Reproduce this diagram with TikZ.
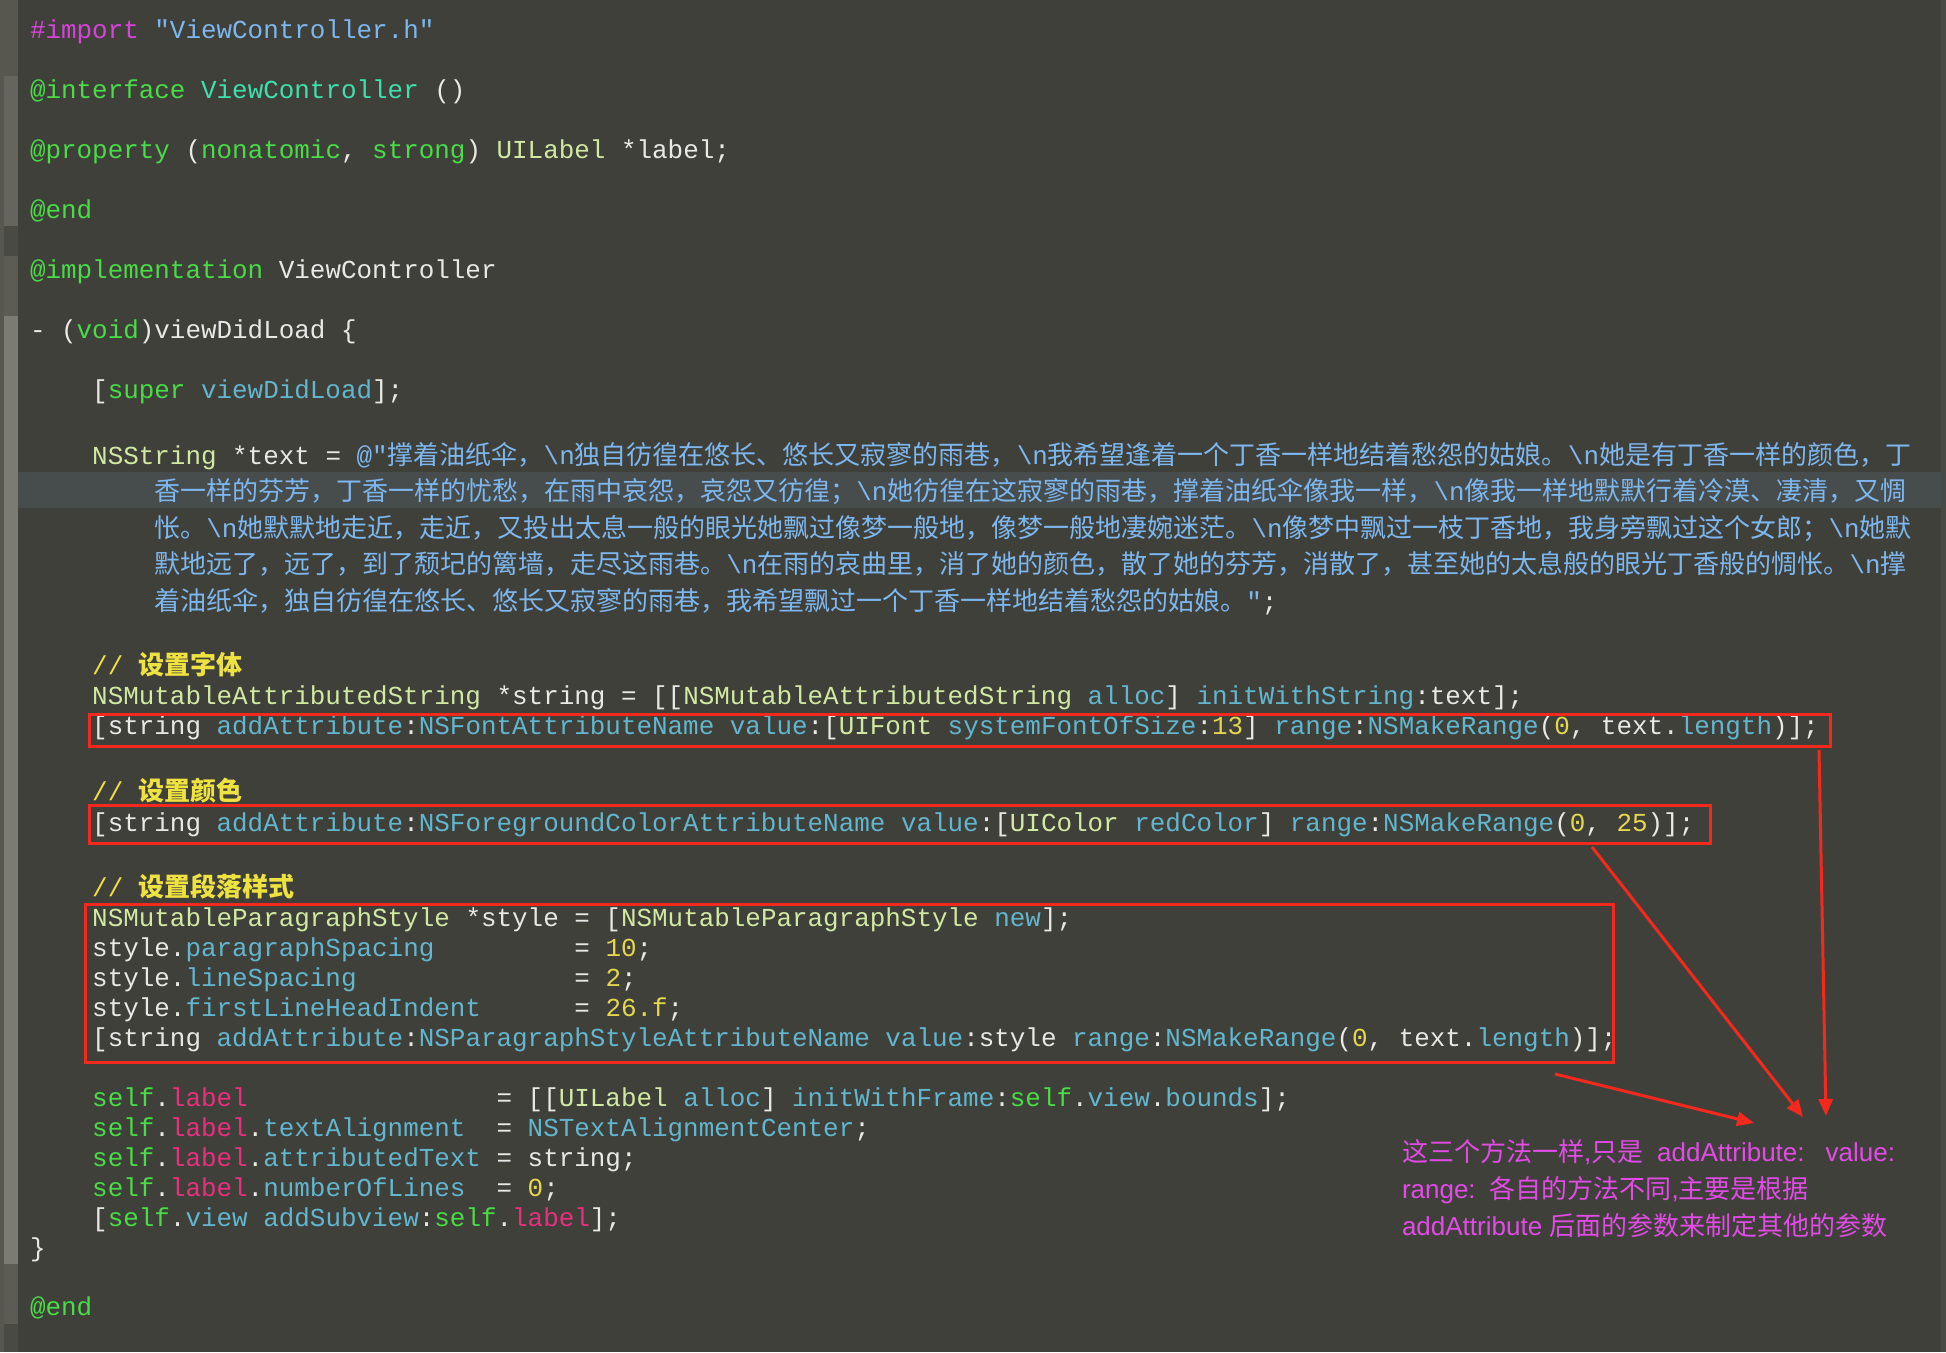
\documentclass[tikz,border=0pt]{standalone}
\usepackage{fontspec}
\setmonofont{Liberation Mono}
\newfontfamily\cjk{Noto Sans CJK SC}
\newfontfamily\lsans{Liberation Sans}
\usetikzlibrary{arrows.meta}
\definecolor{bg}{HTML}{40403A}
\definecolor{hl}{HTML}{474C4C}
\definecolor{cwhite}{HTML}{E8E8E6}
\definecolor{ckey}{HTML}{48DC46}
\definecolor{cmeth}{HTML}{62B6CE}
\definecolor{cclass}{HTML}{D2E9A3}
\definecolor{cstr}{HTML}{7DB7EE}
\definecolor{cnum}{HTML}{E6D84E}
\definecolor{ccom}{HTML}{EEE240}
\definecolor{cpre}{HTML}{D843DC}
\definecolor{cpink}{HTML}{E8307F}
\definecolor{cname}{HTML}{3EE0AE}
\definecolor{cred}{HTML}{F2291C}
\definecolor{cnote}{HTML}{E24BE6}
\definecolor{gA}{HTML}{57574F}
\definecolor{gB}{HTML}{65655D}
\definecolor{gC}{HTML}{4A4A44}
\definecolor{gD}{HTML}{5C5C55}
\definecolor{gE}{HTML}{7B7B71}
\newlength\mw
\setlength\mw{15.5545pt}
\newcommand\xs[1]{\hspace*{#1\mw}}
\newcommand\xW[1]{\textcolor{cwhite}{#1}}
\newcommand\xG[1]{\textcolor{ckey}{#1}}
\newcommand\xM[1]{\textcolor{cmeth}{#1}}
\newcommand\xC[1]{\textcolor{cclass}{#1}}
\newcommand\xS[1]{\textcolor{cstr}{#1}}
\newcommand\xN[1]{\textcolor{cnum}{#1}}
\newcommand\xP[1]{\textcolor{cpre}{#1}}
\newcommand\xK[1]{\textcolor{cpink}{#1}}
\newcommand\xT[1]{\textcolor{cname}{#1}}
\newcommand\xY[1]{\textcolor{ccom}{#1}}
\newcommand\xZ[1]{{\cjk\fontsize{26}{30}\selectfont #1}}
\newcommand\xB[1]{{\cjk\bfseries\fontsize{26}{30}\selectfont #1}}
\newcommand\xQ[1]{{\cjk #1}}
\newcommand\xn{\textbackslash n}
\tikzset{
  code/.style={anchor=base west, inner sep=0pt, outer sep=0pt,
    font=\ttfamily\fontsize{25.92}{30}\selectfont\frenchspacing, text=cwhite},
  notetext/.style={anchor=base west, inner sep=0pt, outer sep=0pt,
    font=\lsans\fontsize{26}{30}\selectfont, text=cnote},
  redbox/.style={draw=cred, line width=3pt, inner sep=0pt, outer sep=0pt,
    anchor=north west},
  redarrow/.style={draw=cred, line width=3pt, -{Triangle[length=17pt,width=14pt]}}
}
\begin{document}
\begin{tikzpicture}[x=1pt,y=-1pt]
\useasboundingbox (0,0) rectangle (1946,1352);
\fill[bg] (0,0) rectangle (1946,1352);
% gutter
\fill[gA] (0,0) rectangle (4,1352);
\fill[gA] (4,0) rectangle (18,76);
\fill[gB] (4,76) rectangle (18,226);
\fill[gC] (4,226) rectangle (18,256);
\fill[gD] (4,256) rectangle (18,316);
\fill[gE] (4,316) rectangle (18,1264);
\fill[gD] (4,1264) rectangle (18,1324);
\fill[gC] (4,1324) rectangle (18,1352);
\fill[gC] (1941,0) rectangle (1946,1352);
% current line highlight
\fill[hl] (18,472) rectangle (1941,508);

% code lines
\node[code] (c01) at (30,38) {\xP{\#import} \xS{"ViewController.h"}};
\node[code] (c02) at (30,98) {\xG{@interface} \xT{ViewController} \xW{()}};
\node[code] (c03) at (30,158) {\xG{@property} \xW{(}\xG{nonatomic}\xW{,} \xG{strong}\xW{)} \xC{UILabel} \xW{*label;}};
\node[code] (c04) at (30,218) {\xG{@end}};
\node[code] (c05) at (30,278) {\xG{@implementation} \xW{ViewController}};
\node[code] (c06) at (30,338) {\xW{- (}\xG{void}\xW{)viewDidLoad \{}};
\node[code] (c07) at (92.2,398) {\xW{[}\xG{super} \xM{viewDidLoad}\xW{];}};

\node[code] (c08) at (92.2,464) {\xC{NSString} \xW{*text =} \xS{@"\xZ{撑着油纸伞，}\xn\xZ{独自彷徨在悠长、悠长又寂寥的雨巷，}\xn\xZ{我希望逢着一个丁香一样地结着愁怨的姑娘。}\xn\xZ{她是有丁香一样的颜色，丁}}};
\node[code] (c09) at (154.4,500.5) {\xS{\xZ{香一样的芬芳，丁香一样的忧愁，在雨中哀怨，哀怨又彷徨；}\xn\xZ{她彷徨在这寂寥的雨巷，撑着油纸伞像我一样，}\xn\xZ{像我一样地默默行着冷漠、凄清，又惆}}};
\node[code] (c10) at (154.4,537) {\xS{\xZ{怅。}\xn\xZ{她默默地走近，走近，又投出太息一般的眼光她飘过像梦一般地，像梦一般地凄婉迷茫。}\xn\xZ{像梦中飘过一枝丁香地，我身旁飘过这个女郎；}\xn\xZ{她默}}};
\node[code] (c11) at (154.4,573.5) {\xS{\xZ{默地远了，远了，到了颓圮的篱墙，走尽这雨巷。}\xn\xZ{在雨的哀曲里，消了她的颜色，散了她的芬芳，消散了，甚至她的太息般的眼光丁香般的惆怅。}\xn\xZ{撑}}};
\node[code] (c12) at (154.4,610) {\xS{\xZ{着油纸伞，独自彷徨在悠长、悠长又寂寥的雨巷，我希望飘过一个丁香一样地结着愁怨的姑娘。}"}\xW{;}};

\node[code] (c13) at (92.2,674) {\xY{// \xB{设置字体}}};
\node[code] (c14) at (92.2,704) {\xC{NSMutableAttributedString} \xW{*string = [[}\xC{NSMutableAttributedString} \xM{alloc}\xW{]} \xM{initWithString}\xW{:text];}};
\node[code] (c15) at (92.2,734) {\xW{[string} \xM{addAttribute}\xW{:}\xM{NSFontAttributeName} \xM{value}\xW{:[}\xC{UIFont} \xM{systemFontOfSize}\xW{:}\xN{13}\xW{]} \xM{range}\xW{:}\xM{NSMakeRange}\xW{(}\xN{0}\xW{, text.}\xM{length}\xW{)];}};

\node[code] (c16) at (92.2,800) {\xY{// \xB{设置颜色}}};
\node[code] (c17) at (92.2,831) {\xW{[string} \xM{addAttribute}\xW{:}\xM{NSForegroundColorAttributeName} \xM{value}\xW{:[}\xC{UIColor} \xM{redColor}\xW{]} \xM{range}\xW{:}\xM{NSMakeRange}\xW{(}\xN{0}\xW{,} \xN{25}\xW{)];}};

\node[code] (c18) at (92.2,896) {\xY{// \xB{设置段落样式}}};
\node[code] (c19) at (92.2,926) {\xC{NSMutableParagraphStyle} \xW{*style = [}\xC{NSMutableParagraphStyle} \xM{new}\xW{];}};
\node[code] (c20) at (92.2,956) {\xW{style.}\xM{paragraphSpacing}\xs{9}\xW{=} \xN{10}\xW{;}};
\node[code] (c21) at (92.2,986) {\xW{style.}\xM{lineSpacing}\xs{14}\xW{=} \xN{2}\xW{;}};
\node[code] (c22) at (92.2,1016) {\xW{style.}\xM{firstLineHeadIndent}\xs{6}\xW{=} \xN{26.f}\xW{;}};
\node[code] (c23) at (92.2,1046) {\xW{[string} \xM{addAttribute}\xW{:}\xM{NSParagraphStyleAttributeName} \xM{value}\xW{:style} \xM{range}\xW{:}\xM{NSMakeRange}\xW{(}\xN{0}\xW{, text.}\xM{length}\xW{)];}};

\node[code] (c24) at (92.2,1106) {\xG{self}\xW{.}\xK{label}\xs{16}\xW{= [[}\xC{UILabel} \xM{alloc}\xW{]} \xM{initWithFrame}\xW{:}\xG{self}\xW{.}\xM{view}\xW{.}\xM{bounds}\xW{];}};
\node[code] (c25) at (92.2,1136) {\xG{self}\xW{.}\xK{label}\xW{.}\xM{textAlignment}\xs{2}\xW{=} \xM{NSTextAlignmentCenter}\xW{;}};
\node[code] (c26) at (92.2,1166) {\xG{self}\xW{.}\xK{label}\xW{.}\xM{attributedText} \xW{= string;}};
\node[code] (c27) at (92.2,1196) {\xG{self}\xW{.}\xK{label}\xW{.}\xM{numberOfLines}\xs{2}\xW{=} \xN{0}\xW{;}};
\node[code] (c28) at (92.2,1226) {\xW{[}\xG{self}\xW{.}\xM{view} \xM{addSubview}\xW{:}\xG{self}\xW{.}\xK{label}\xW{];}};
\node[code] (c29) at (30,1256) {\xW{\}}};
\node[code] (c30) at (30,1315) {\xG{@end}};

% red boxes
\node[redbox, minimum width=1741pt, minimum height=32pt] (b1) at (89.5,714.5) {};
\node[redbox, minimum width=1621pt, minimum height=38pt] (b2) at (89.5,805.5) {};
\node[redbox, minimum width=1528pt, minimum height=158pt] (b3) at (85.5,904.5) {};

% annotation
\node[notetext] (n1) at (1402,1161) {\xQ{这三个方法一样},\xQ{只是}\hspace*{14pt}addAttribute:\hspace*{21pt}value:};
\node[notetext] (n2) at (1402,1198) {range:\hspace*{14pt}\xQ{各自的方法不同},\xQ{主要是根据}};
\node[notetext] (n3) at (1402,1235) {addAttribute \xQ{后面的参数来制定其他的参数}};

% arrows
\coordinate (aAs) at (1819,750);
\coordinate (aAe) at (1826,1116);
\coordinate (aBs) at (1592,847);
\coordinate (aBe) at (1803,1117);
\coordinate (aCs) at (1555,1074);
\coordinate (aCe) at (1754,1123);
\draw[redarrow] (aAs) -- (aAe);
\draw[redarrow] (aBs) -- (aBe);
\draw[redarrow] (aCs) -- (aCe);
\end{tikzpicture}
\end{document}
